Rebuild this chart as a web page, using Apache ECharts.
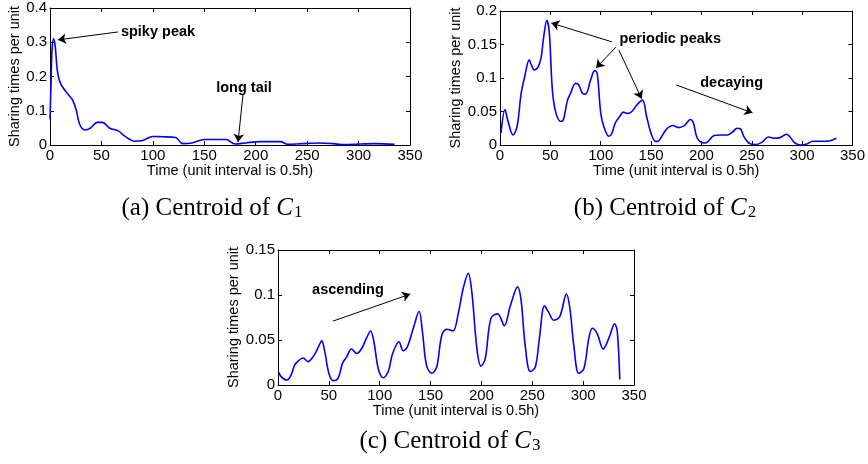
<!DOCTYPE html>
<html>
<head>
<meta charset="utf-8">
<script src="https://cdn.jsdelivr.net/npm/echarts@6/dist/echarts.min.js"></script>
<style>
html,body{margin:0;padding:0;background:#fff;}
#chart{width:868px;height:464px;}
</style>
</head>
<body>
<div id="chart"></div>
<script>
// ---- data ----
const timeTicks = ['0','50','100','150','200','250','300','350'];
const c1YTicks = ['0','0.1','0.2','0.3','0.4'];
const c2YTicks = ['0','0.05','0.1','0.15','0.2'];
const c3YTicks = ['0','0.05','0.1','0.15'];

const c1Time = [0, 1, 2, 3.5, 5, 7, 9, 12, 17, 22, 25.5, 29, 34, 39, 46, 51, 58, 66, 73, 82, 90, 100, 109, 122, 129, 138, 150, 171, 180, 190, 204, 224, 231, 245, 262, 275, 286, 303, 316, 335];
const c1Vals = [0.075, 0.18, 0.28, 0.31, 0.29, 0.22, 0.19, 0.17, 0.15, 0.131, 0.102, 0.059, 0.044, 0.049, 0.066, 0.066, 0.049, 0.042, 0.025, 0.011, 0.013, 0.025, 0.024, 0.022, 0.004, 0.006, 0.016, 0.016, 0.003, 0.006, 0.01, 0.01, 0.002, 0.004, 0.006, 0.004, 0.001, 0.003, 0.004, 0.002];

const c2Time = [1, 5, 7.5, 13, 17, 21, 24.5, 29, 31, 34, 38, 41, 43, 46.5, 49, 52, 55.5, 60.5, 63, 67, 70, 75, 78, 82, 85, 90, 94, 96.5, 100, 103, 108, 111, 114.5, 119, 122.5, 126.5, 131, 136, 141.5, 145.5, 150.5, 155, 158.5, 165, 171.7, 177, 183, 189, 192, 196, 203, 206, 212.6, 219, 225.7, 230.6, 235.5, 238.8, 242, 247, 253.5, 260, 266.6, 271.5, 278, 284.6, 288, 292.8, 299, 304, 310.8, 320.6, 327, 334];
const c2Vals = [0.018, 0.053, 0.038, 0.015, 0.028, 0.077, 0.102, 0.127, 0.12, 0.112, 0.117, 0.132, 0.157, 0.186, 0.167, 0.082, 0.048, 0.035, 0.038, 0.067, 0.077, 0.092, 0.09, 0.077, 0.076, 0.097, 0.111, 0.107, 0.048, 0.028, 0.013, 0.017, 0.033, 0.043, 0.049, 0.047, 0.05, 0.06, 0.067, 0.043, 0.015, 0.005, 0.008, 0.023, 0.029, 0.026, 0.029, 0.038, 0.033, 0.01, 0.003, 0.0045, 0.014, 0.015, 0.015, 0.019, 0.025, 0.024, 0.013, 0.003, 0.0005, 0.004, 0.012, 0.01, 0.011, 0.016, 0.012, 0.003, 0, 0.001, 0.0055, 0.0055, 0.006, 0.01];

const c3Time = [1, 3.3, 8.2, 12, 16.4, 19.7, 24.6, 29.6, 32.9, 37, 40.4, 43, 46, 50, 54.2, 59, 63.4, 67.4, 72.3, 77.2, 82, 87, 91, 94.3, 98.6, 103.5, 108.4, 112.7, 119, 123, 127, 133, 138.7, 142, 146, 151, 156, 161, 166, 172, 177.5, 182, 187, 190.6, 195.5, 199.5, 203.7, 209.3, 216, 222.5, 228.4, 235.6, 239, 243, 248, 253, 257, 262, 266, 271, 277, 283.6, 287, 290.8, 295.7, 300.7, 305.6, 309, 313.8, 319.7, 325.3, 331, 333.6, 336];
const c3Vals = [0.014, 0.009, 0.0055, 0.009, 0.022, 0.0265, 0.03, 0.026, 0.029, 0.036, 0.044, 0.049, 0.037, 0.013, 0.0048, 0.0074, 0.024, 0.031, 0.04, 0.035, 0.04, 0.052, 0.06, 0.048, 0.018, 0.008, 0.015, 0.035, 0.048, 0.038, 0.042, 0.063, 0.082, 0.059, 0.022, 0.013, 0.02, 0.055, 0.062, 0.06, 0.081, 0.107, 0.124, 0.103, 0.041, 0.021, 0.029, 0.074, 0.079, 0.066, 0.088, 0.109, 0.094, 0.044, 0.015, 0.02, 0.052, 0.088, 0.081, 0.072, 0.076, 0.101, 0.085, 0.044, 0.013, 0.018, 0.052, 0.063, 0.057, 0.04, 0.052, 0.068, 0.059, 0.006];

// ---- chart ----
const FONT = 'Liberation Sans, Arial, Helvetica, sans-serif';
const SERIF = 'Liberation Serif, Times New Roman, serif';
const pairs = (xs, ys) => xs.map((x, i) => [x, ys[i]]);

const grids = [
  {left: 50, top: 8, width: 360, height: 137},
  {left: 500, top: 11, width: 356, height: 134},
  {left: 278, top: 250, width: 356, height: 135}
];
const yCfg = [
  {max: 0.4, interval: 0.1, ticks: c1YTicks, gap: 28},
  {max: 0.2, interval: 0.05, ticks: c2YTicks, gap: 35},
  {max: 0.15, interval: 0.05, ticks: c3YTicks, gap: 34}
];

const xAxes = [], yAxes = [];
grids.forEach((g, i) => {
  const line = {show: true, onZero: false, lineStyle: {color: '#000', width: 1}};
  const tick = {show: true, inside: true, length: 4, lineStyle: {color: '#000', width: 1}};
  xAxes.push({
    type: 'value', gridIndex: i, min: 0, max: 350, interval: 50, position: 'bottom',
    axisLine: line, axisTick: tick, splitLine: {show: false},
    axisLabel: {color: '#000', fontFamily: FONT, fontSize: 15, margin: 3,
      formatter: v => timeTicks[Math.round(v / 50)]},
    name: 'Time (unit interval is 0.5h)', nameLocation: 'middle', nameGap: 17,
    nameTextStyle: {color: '#000', fontFamily: FONT, fontSize: 14.5}
  });
  xAxes.push({
    type: 'value', gridIndex: i, min: 0, max: 350, interval: 50, position: 'top',
    axisLine: line, axisTick: tick, splitLine: {show: false}, axisLabel: {show: false}
  });
  const yc = yCfg[i];
  yAxes.push({
    type: 'value', gridIndex: i, min: 0, max: yc.max, interval: yc.interval, position: 'left',
    axisLine: line, axisTick: tick, splitLine: {show: false},
    axisLabel: {color: '#000', fontFamily: FONT, fontSize: 15, margin: 3,
      formatter: v => yc.ticks[Math.round(v / yc.interval)]},
    name: 'Sharing times per unit', nameLocation: 'middle', nameGap: yc.gap,
    nameTextStyle: {color: '#000', fontFamily: FONT, fontSize: 14.5}
  });
  yAxes.push({
    type: 'value', gridIndex: i, min: 0, max: yc.max, interval: yc.interval, position: 'right',
    axisLine: line, axisTick: tick, splitLine: {show: false}, axisLabel: {show: false}
  });
});

const annLabel = {show: true, color: '#000', fontFamily: FONT, fontWeight: 'bold', fontSize: 14.5};
function texts(list) {
  return {
    silent: true, symbol: 'circle', symbolSize: 0,
    label: annLabel,
    data: list.map(t => ({coord: t.at, label: Object.assign({}, annLabel, {formatter: t.text, position: 'inside'})}))
  };
}
function arrows(list) {
  return {
    silent: true, symbol: ['none', 'arrow'], symbolSize: 8, animation: false,
    lineStyle: {color: '#000', width: 1, type: 'solid'},
    itemStyle: {color: '#000'},
    label: {show: false}, emphasis: {disabled: true},
    data: list.map(a => [{coord: a[0]}, {coord: a[1]}])
  };
}

const lineStyle = {color: '#0000ff', width: 1.6};
const series = [
  {
    type: 'line', xAxisIndex: 0, yAxisIndex: 0, data: pairs(c1Time, c1Vals),
    showSymbol: false, smooth: 0.35, lineStyle, itemStyle: {color: '#0000ff'},
    markPoint: texts([{text: 'spiky peak', at: [105, 0.33]}, {text: 'long tail', at: [188.6, 0.166]}]),
    markLine: arrows([[[66, 0.330], [7.8, 0.307]], [[187.6, 0.146], [182.8, 0.009]]])
  },
  {
    type: 'line', xAxisIndex: 2, yAxisIndex: 2, data: pairs(c2Time, c2Vals),
    showSymbol: false, smooth: 0.35, lineStyle, itemStyle: {color: '#0000ff'},
    markPoint: texts([{text: 'periodic peaks', at: [169, 0.158]}, {text: 'decaying', at: [230, 0.0925]}]),
    markLine: arrows([
      [[111, 0.154], [51, 0.182]],
      [[115, 0.146], [95.4, 0.115]],
      [[118, 0.142], [140.6, 0.069]],
      [[175, 0.0896], [250.7, 0.048]]
    ])
  },
  {
    type: 'line', xAxisIndex: 4, yAxisIndex: 4, data: pairs(c3Time, c3Vals),
    showSymbol: false, smooth: 0.35, lineStyle, itemStyle: {color: '#0000ff'},
    markPoint: texts([{text: 'ascending', at: [68.8, 0.1056]}]),
    markLine: arrows([[[54, 0.071], [130, 0.101]]])
  }
];

function caption(letter, idx, cx, cy) {
  return {
    type: 'text', x: cx, y: cy, silent: true,
    style: {
      text: '{n|(' + letter + ') Centroid of }{c|C}{s|' + idx + '}',
      align: 'center', verticalAlign: 'middle',
      rich: {
        n: {fontFamily: SERIF, fontSize: 25, fill: '#000'},
        c: {fontFamily: SERIF, fontSize: 25, fontStyle: 'italic', fill: '#000'},
        s: {fontFamily: SERIF, fontSize: 17, fill: '#000', padding: [10, 0, 0, 1]}
      }
    }
  };
}

const chart = echarts.init(document.getElementById('chart'), null, {renderer: 'canvas'});
chart.setOption({
  animation: false,
  backgroundColor: '#fff',
  grid: grids.map(g => Object.assign({containLabel: false}, g)),
  xAxis: xAxes,
  yAxis: yAxes,
  series: series,
  graphic: [
    caption('a', 1, 212, 208),
    caption('b', 2, 665, 208),
    caption('c', 3, 450, 441)
  ]
});
</script>
</body>
</html>
